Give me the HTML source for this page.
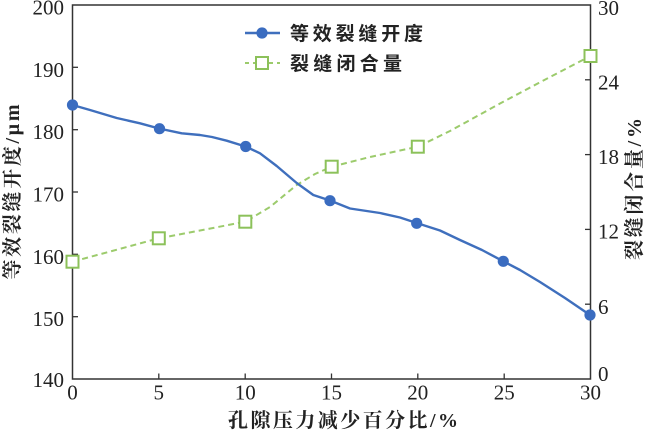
<!DOCTYPE html>
<html>
<head>
<meta charset="utf-8">
<style>
  html, body { margin:0; padding:0; background:#fff; }
  svg { display:block; }
  .tk { font-family:"Liberation Serif", "Times New Roman", serif; font-size:21px; fill:#222; }
  .ttl { font-family:"Liberation Serif", "Noto Serif CJK SC", serif; font-size:20px; font-weight:bold; fill:#222; }
  .lg { font-family:"Liberation Sans", "Noto Sans CJK SC", sans-serif; font-size:19px; font-weight:bold; fill:#222; }
</style>
</head>
<body>
<svg width="650" height="431" viewBox="0 0 650 431" xmlns="http://www.w3.org/2000/svg">
  <rect width="650" height="431" fill="#fff"/>

  <!-- plot frame -->
  <rect x="72.5" y="5" width="518" height="374" fill="none" stroke="#333" stroke-width="1.5"/>

  <!-- left ticks (inward) -->
  <g stroke="#333" stroke-width="1.3">
    <line x1="72.5" y1="67.3" x2="78" y2="67.3"/>
    <line x1="72.5" y1="129.7" x2="78" y2="129.7"/>
    <line x1="72.5" y1="192" x2="78" y2="192"/>
    <line x1="72.5" y1="254.3" x2="78" y2="254.3"/>
    <line x1="72.5" y1="316.7" x2="78" y2="316.7"/>
    <!-- bottom ticks -->
    <line x1="158.8" y1="379" x2="158.8" y2="373.5"/>
    <line x1="245.2" y1="379" x2="245.2" y2="373.5"/>
    <line x1="331.5" y1="379" x2="331.5" y2="373.5"/>
    <line x1="417.8" y1="379" x2="417.8" y2="373.5"/>
    <line x1="504.2" y1="379" x2="504.2" y2="373.5"/>
    <!-- right ticks -->
    <line x1="590.5" y1="79.8" x2="585" y2="79.8"/>
    <line x1="590.5" y1="154.6" x2="585" y2="154.6"/>
    <line x1="590.5" y1="229.4" x2="585" y2="229.4"/>
    <line x1="590.5" y1="304.2" x2="585" y2="304.2"/>
  </g>

  <!-- left tick labels -->
  <g class="tk" text-anchor="end">
    <text x="64" y="14.5">200</text>
    <text x="64" y="76.8">190</text>
    <text x="64" y="139.2">180</text>
    <text x="64" y="201.5">170</text>
    <text x="64" y="263.8">160</text>
    <text x="64" y="326.2">150</text>
    <text x="64" y="387">140</text>
  </g>

  <!-- bottom tick labels -->
  <g class="tk" text-anchor="middle">
    <text x="72.5" y="399.5">0</text>
    <text x="158.8" y="399.5">5</text>
    <text x="245.2" y="399.5">10</text>
    <text x="331.5" y="399.5">15</text>
    <text x="417.8" y="399.5">20</text>
    <text x="504.2" y="399.5">25</text>
    <text x="590.5" y="399.5">30</text>
  </g>

  <!-- right tick labels -->
  <g class="tk" text-anchor="start">
    <text x="598" y="15">30</text>
    <text x="598" y="89.5">24</text>
    <text x="598" y="164">18</text>
    <text x="598" y="238.5">12</text>
    <text x="598" y="314">6</text>
    <text x="598" y="381">0</text>
  </g>

  <!-- axis titles -->
  <text class="ttl" transform="translate(19,192) rotate(-90)" x="-87.5" y="0" textLength="175" lengthAdjust="spacing">等效裂缝开度/μm</text>
  <text class="ttl" transform="translate(641,189) rotate(-90)" x="-71" y="0" textLength="142" lengthAdjust="spacing">裂缝闭合量/%</text>
  <text class="ttl" x="228" y="427" textLength="230" lengthAdjust="spacing">孔隙压力减少百分比/%</text>

  <!-- green dashed series -->
  <polyline fill="none" stroke="#9ccb6c" stroke-width="2" stroke-dasharray="6,4" stroke-linejoin="round"
    points="72.5,261.7 158.8,238.3 200,230.5 245.3,221.7 270,207 296.7,185 315,174 331.7,166.7 370,157 417.8,146.7 450,131 500,103.5 550,77 590.5,56"/>
  <g fill="#fff" stroke="#8cc15a" stroke-width="2">
    <rect x="66.5" y="255.7" width="12" height="12"/>
    <rect x="152.8" y="232.3" width="12" height="12"/>
    <rect x="239.3" y="215.7" width="12" height="12"/>
    <rect x="325.7" y="160.7" width="12" height="12"/>
    <rect x="411.8" y="140.7" width="12" height="12"/>
    <rect x="584.5" y="50" width="12" height="12"/>
  </g>

  <!-- blue solid series -->
  <polyline fill="none" stroke="#3f6fbd" stroke-width="2.4" stroke-linejoin="round" stroke-linecap="round"
    points="72.5,105 90,110 116.7,118 140,123.3 159,128.5 181.7,133.3 200,135 212,137 226.7,140.7 245.5,146.5 260,153.3 276.7,166 296.7,183 313.3,195 330,200.5 350,208.5 380,213 400,217.5 416.7,223 440,230.5 460,240 482,250 503.3,261.3 520,270 540,282 565,298 590,315"/>
  <g fill="#3a6cc0">
    <circle cx="72.5" cy="105" r="5.6"/>
    <circle cx="159.5" cy="128.7" r="5.6"/>
    <circle cx="245.7" cy="146.5" r="5.6"/>
    <circle cx="330" cy="200.7" r="5.6"/>
    <circle cx="416.7" cy="223.3" r="5.6"/>
    <circle cx="503.3" cy="261.3" r="5.6"/>
    <circle cx="590" cy="315" r="5.6"/>
  </g>

  <!-- legend -->
  <line x1="245" y1="33" x2="280" y2="33" stroke="#3f6fbd" stroke-width="2.4"/>
  <circle cx="262" cy="33" r="5.6" fill="#3a6cc0"/>
  <text class="lg" x="290" y="40" textLength="133" lengthAdjust="spacing">等效裂缝开度</text>

  <line x1="245" y1="63" x2="280" y2="63" stroke="#9ccb6c" stroke-width="2" stroke-dasharray="4,4"/>
  <rect x="256" y="57" width="12" height="12" fill="#fff" stroke="#8cc15a" stroke-width="2"/>
  <text class="lg" x="290" y="70" textLength="112" lengthAdjust="spacing">裂缝闭合量</text>
</svg>
</body>
</html>
